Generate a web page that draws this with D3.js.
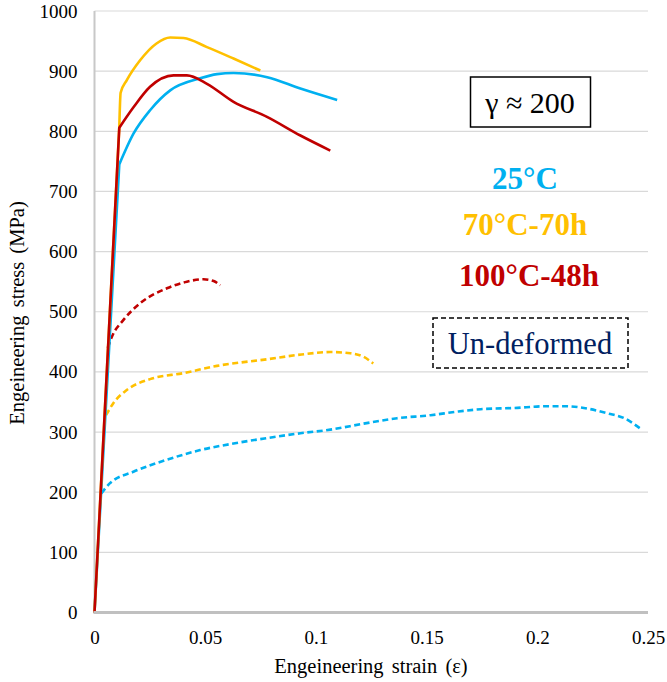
<!DOCTYPE html>
<html>
<head>
<meta charset="utf-8">
<script src="https://cdn.jsdelivr.net/npm/d3@7"></script>
<style>
  html, body { margin: 0; padding: 0; background: #fff; }
  svg { display: block; }
</style>
</head>
<body>
<svg id="chart"></svg>
<script>
// Tick values
const xTicks = [0, 0.05, 0.1, 0.15, 0.2, 0.25];
const yTicks = [0, 100, 200, 300, 400, 500, 600, 700, 800, 900, 1000];

// Deformed (solid) curves: [strain, stress]; first segment is the elastic line
const deformed25 = [[0, 0], [0.0112, 745], [0.0176, 796], [0.0251, 835], [0.0342, 868], [0.0477, 888], [0.0553, 895], [0.0628, 897], [0.078, 890], [0.093, 871], [0.1096, 852]];
const deformed70 = [[0, 0], [0.0112, 807], [0.0118, 864], [0.0146, 885], [0.0206, 918], [0.028, 946], [0.0342, 956], [0.0402, 955], [0.0508, 940], [0.0628, 921], [0.0749, 901]];
const deformed100 = [[0, 0], [0.0112, 806], [0.0176, 840], [0.0251, 874], [0.0357, 893], [0.0417, 893], [0.0508, 879], [0.0628, 849], [0.0779, 824], [0.093, 793], [0.1065, 768]];

// Un-deformed (dashed) curves, from yield on
const undeformed25 = [[0.0031, 198], [0.007, 215], [0.0176, 234], [0.0327, 254], [0.0477, 270], [0.0628, 281], [0.078, 290], [0.093, 298], [0.1065, 304], [0.1216, 314], [0.1367, 323], [0.1518, 328], [0.1639, 334], [0.1744, 338], [0.1895, 340], [0.2046, 343], [0.2121, 343], [0.2227, 339], [0.2318, 331], [0.2393, 323], [0.2468, 305]];
const undeformed70 = [[0.0052, 328], [0.0085, 348], [0.0146, 370], [0.0251, 388], [0.0402, 398], [0.0553, 410], [0.078, 421], [0.0935, 429], [0.1067, 433], [0.1156, 431], [0.1216, 425], [0.1259, 414]];
const undeformed100 = [[0.006, 440], [0.0078, 458], [0.013, 486], [0.0206, 514], [0.0327, 539], [0.0417, 550], [0.0492, 554], [0.0538, 551], [0.0568, 544]];

const labels = ["25°C", "70°C-70h", "100°C-48h"];

const width = 667, height = 682;
const svg = d3.select("#chart").attr("width", width).attr("height", height);

const font = "'Liberation Serif', 'Times New Roman', serif";
const colors = { c25: "#00b0f0", c70: "#ffc000", c100: "#c00000" };

const x = d3.scaleLinear().domain([0, 0.25]).range([94.5, 648]);
const y = d3.scaleLinear().domain([0, 1000]).range([612.5, 11]);

// Grid lines
svg.append("g")
  .selectAll("line")
  .data(yTicks.slice(1))
  .join("line")
  .attr("x1", x(0)).attr("x2", x(0.25))
  .attr("y1", d => y(d)).attr("y2", d => y(d))
  .attr("stroke", "#d9d9d9").attr("stroke-width", 1.2);

// Left axis line
svg.append("line")
  .attr("x1", x(0)).attr("x2", x(0))
  .attr("y1", y(0)).attr("y2", y(1000))
  .attr("stroke", "#c8c8c8").attr("stroke-width", 2);

// Y axis labels
const yAxis = d3.axisLeft(y).tickValues(yTicks).tickSize(0).tickPadding(17).tickFormat(d3.format("d"));
const gy = svg.append("g").attr("transform", `translate(${x(0)},0)`).call(yAxis);
gy.select(".domain").remove();
gy.selectAll("text").attr("font-family", font).attr("font-size", "19px").attr("fill", "#000");

// X axis labels
const xAxis = d3.axisBottom(x).tickValues(xTicks).tickSize(0).tickPadding(18).tickFormat(d => d === 0 ? "0" : String(d));
const gx = svg.append("g").attr("transform", `translate(0,${y(0)})`).call(xAxis);
gx.select(".domain").remove();
gx.selectAll("text").attr("font-family", font).attr("font-size", "19px").attr("fill", "#000");

const smooth = d3.line()
  .x(d => x(d[0]))
  .y(d => y(d[1]))
  .curve(d3.curveMonotoneX);
const straight = d3.line()
  .x(d => x(d[0]))
  .y(d => y(d[1]));

// Solid curves: straight elastic segment + smoothed plastic part
const pathFor = d => d.dashed ? smooth(d.data) : straight(d.data.slice(0, 2)) + smooth(d.data.slice(1)).replace(/^M[^A-Za-z]*/, "");

// Dashed first, solid on top
const series = [
  { data: undeformed25, color: colors.c25, dashed: true },
  { data: undeformed70, color: colors.c70, dashed: true },
  { data: undeformed100, color: colors.c100, dashed: true },
  { data: deformed25, color: colors.c25, dashed: false },
  { data: deformed70, color: colors.c70, dashed: false },
  { data: deformed100, color: colors.c100, dashed: false }
];

svg.append("g")
  .selectAll("path")
  .data(series)
  .join("path")
  .attr("d", pathFor)
  .attr("fill", "none")
  .attr("stroke", d => d.color)
  .attr("stroke-width", 2.6)
  .attr("stroke-dasharray", d => d.dashed ? "6,3.5" : null)
  .attr("stroke-linejoin", "round");

// Bottom axis line
svg.append("line")
  .attr("x1", x(0) - 1).attr("x2", x(0.25))
  .attr("y1", y(0)).attr("y2", y(0))
  .attr("stroke", "#c0c0c0").attr("stroke-width", 3);

// Axis titles
svg.append("text")
  .attr("x", 371).attr("y", 673)
  .attr("text-anchor", "middle")
  .attr("font-family", font).attr("font-size", "20.5px")
  .attr("word-spacing", "3px")
  .text("Engeineering strain (ε)");

svg.append("text")
  .attr("transform", "translate(24,313) rotate(-90)")
  .attr("text-anchor", "middle")
  .attr("font-family", font).attr("font-size", "20.5px")
  .attr("word-spacing", "3px")
  .text("Engeineering stress (MPa)");

// γ box
svg.append("rect")
  .attr("x", 470.5).attr("y", 77).attr("width", 120).attr("height", 50)
  .attr("fill", "#fff").attr("stroke", "#000").attr("stroke-width", 1.5);
svg.append("text")
  .attr("x", 530).attr("y", 113)
  .attr("text-anchor", "middle")
  .attr("font-family", font).attr("font-size", "30px")
  .text("γ ≈ 200");

// Condition labels
const labelPos = [
  { t: labels[0], c: colors.c25, y: 189, x: 525 },
  { t: labels[1], c: colors.c70, y: 235, x: 525 },
  { t: labels[2], c: colors.c100, y: 286, x: 529 }
];
svg.append("g")
  .selectAll("text")
  .data(labelPos)
  .join("text")
  .attr("x", d => d.x).attr("y", d => d.y)
  .attr("text-anchor", "middle")
  .attr("font-family", font).attr("font-size", "31px").attr("font-weight", "bold")
  .attr("fill", d => d.c)
  .text(d => d.t);

// Un-deformed box
svg.append("rect")
  .attr("x", 433).attr("y", 318).attr("width", 195).attr("height", 50)
  .attr("fill", "#fff").attr("stroke", "#000").attr("stroke-width", 1.5)
  .attr("stroke-dasharray", "5,3");
svg.append("text")
  .attr("x", 530).attr("y", 354)
  .attr("text-anchor", "middle")
  .attr("font-family", font).attr("font-size", "30.5px")
  .attr("fill", "#002060")
  .text("Un-deformed");
</script>
</body>
</html>
